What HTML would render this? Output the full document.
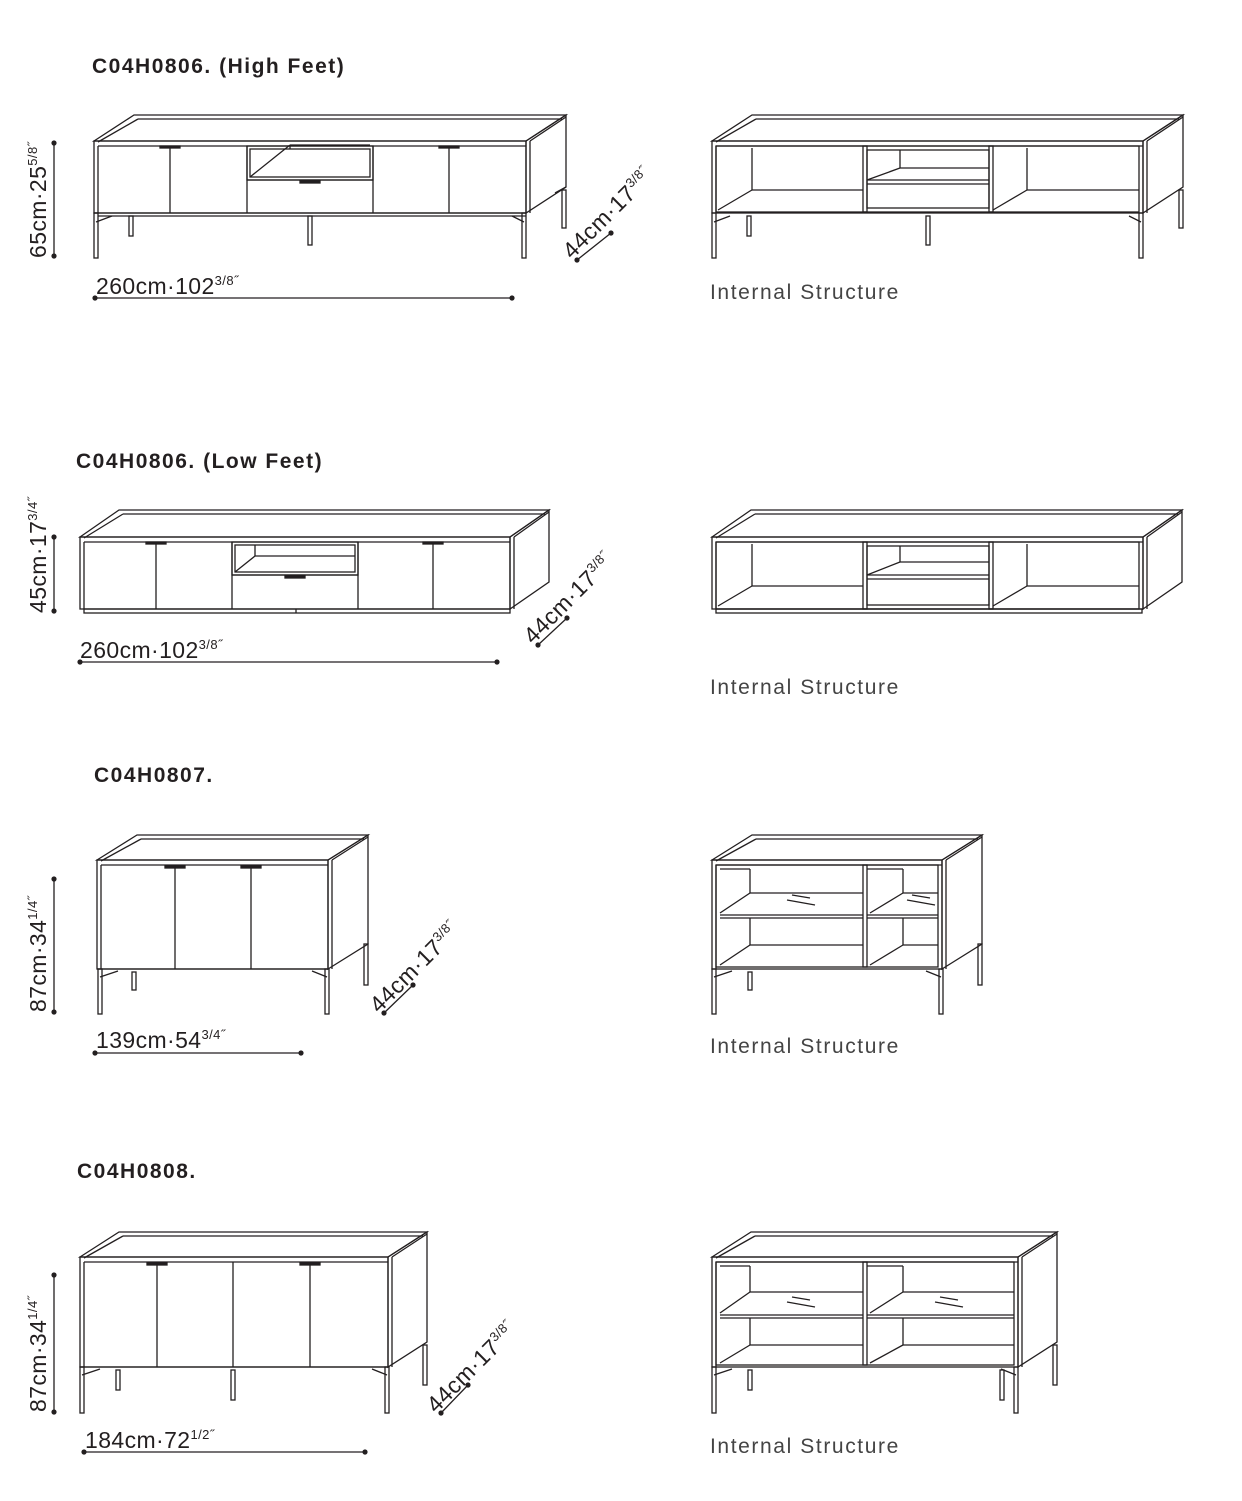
<!DOCTYPE html>
<html><head><meta charset="utf-8"><style>
html,body{margin:0;padding:0;background:#fff}
svg{display:block}
text{font-family:"Liberation Sans",sans-serif;fill:#231f20}
.t{font-weight:bold;font-size:21px;letter-spacing:1.5px}
.d{font-size:23px;letter-spacing:0.4px}
.s{font-size:13px}
.i{font-size:21px;fill:#444;letter-spacing:1.6px}
</style></head><body>
<svg id="s" width="1242" height="1501" viewBox="0 0 1242 1501" xmlns="http://www.w3.org/2000/svg">
<g fill="none" stroke="#231f20" stroke-width="1.3" id="g"></g>
<text class="t" x="92" y="73">C04H0806. (High Feet)</text>
<text class="t" x="76" y="468">C04H0806. (Low Feet)</text>
<text class="t" x="94" y="782">C04H0807.</text>
<text class="t" x="77" y="1178">C04H0808.</text>
<text class="i" x="710" y="299">Internal Structure</text>
<text class="i" x="710" y="694">Internal Structure</text>
<text class="i" x="710" y="1053">Internal Structure</text>
<text class="i" x="710" y="1453">Internal Structure</text>
<text class="d" x="96" y="294">260cm·102<tspan class="s" dy="-9">3/8˝</tspan></text>
<text class="d" x="80" y="658">260cm·102<tspan class="s" dy="-9">3/8˝</tspan></text>
<text class="d" x="96" y="1048">139cm·54<tspan class="s" dy="-9">3/4˝</tspan></text>
<text class="d" x="85" y="1448">184cm·72<tspan class="s" dy="-9">1/2˝</tspan></text>
<text class="d" transform="translate(46,258) rotate(-90)">65cm·25<tspan class="s" dy="-9">5/8˝</tspan></text>
<text class="d" transform="translate(46,613) rotate(-90)">45cm·17<tspan class="s" dy="-9">3/4˝</tspan></text>
<text class="d" transform="translate(46,1012) rotate(-90)">87cm·34<tspan class="s" dy="-9">1/4˝</tspan></text>
<text class="d" transform="translate(46,1412) rotate(-90)">87cm·34<tspan class="s" dy="-9">1/4˝</tspan></text>
<text class="d" transform="translate(572,260) rotate(-45)">44cm·17<tspan class="s" dy="-9">3/8˝</tspan></text>
<text class="d" transform="translate(533,645) rotate(-45)">44cm·17<tspan class="s" dy="-9">3/8˝</tspan></text>
<text class="d" transform="translate(379,1014) rotate(-45)">44cm·17<tspan class="s" dy="-9">3/8˝</tspan></text>
<text class="d" transform="translate(436,1414) rotate(-45)">44cm·17<tspan class="s" dy="-9">3/8˝</tspan></text>
</svg>
<script>
var g=document.getElementById('g'),out='';
function L(a,b,c,d){out+='<line x1="'+a+'" y1="'+b+'" x2="'+c+'" y2="'+d+'"/>';}
function R(x,y,w,h){out+='<rect x="'+x+'" y="'+y+'" width="'+w+'" height="'+h+'"/>';}
function P(p){out+='<polygon points="'+p+'"/>';}
function dot(x,y){out+='<circle cx="'+x+'" cy="'+y+'" r="2.6" fill="#231f20" stroke="none"/>';}
function dim(a,b,c,d){L(a,b,c,d);dot(a,b);dot(c,d);}
function leg(x,y1,y2){R(x-2,y1,4,y2-y1);}
function cab(x0,x1,yt,yb,dx,dy){
  P(x0+','+yt+' '+(x0+dx)+','+(yt-dy)+' '+(x1+dx)+','+(yt-dy)+' '+x1+','+yt);
  L(x0+4,yt+1,x0+dx+4,yt-dy+4);L(x0+dx+4,yt-dy+4,x1+dx-4,yt-dy+4);
  P(x1+','+yt+' '+(x1+dx)+','+(yt-dy)+' '+(x1+dx)+','+(yb-dy)+' '+x1+','+yb);
  L(x1+4,yt,x1+4,yb);L(x1+4,yt,x1+dx,yt-dy+2);
  R(x0,yt,x1-x0,yb-yt);
  L(x0+4,yt+5,x0+4,yb);L(x0+4,yt+5,x1,yt+5);
}
function handle(x,y){out+='<rect x="'+(x-10)+'" y="'+y+'" width="20" height="2" fill="#231f20"/>';}
function openbox(x0,x1,y0,y1,d){R(x0,y0,x1-x0,y1-y0);R(x0+3,y0+3,x1-x0-6,y1-y0-6);
  L(x0+3+d,y0+3,x0+3+d,y1-3-d*0.8);L(x0+3+d,y1-3-d*0.8,x1-3,y1-3-d*0.8);L(x0+3,y1-3,x0+3+d,y1-3-d*0.8);}
function comp(x0,x1,y0,y1,d,h){
  L(x0+d,y0,x0+d,y1-h);L(x0+d,y1-h,x1,y1-h);L(x0,y1,x0+d,y1-h);}
cab(94,526,141,213,40,26);
[170,247,373,449].forEach(function(x){L(x,146,x,213);});
handle(170,146);handle(449,146);
openbox(247,373,146,180,40);L(247,180,373,180);handle(310,181);
L(94,213,526,213);L(98,216,526,216);
leg(96,213,258);leg(524,213,258);leg(131,216,236);leg(310,216,245);leg(564,190,228);
L(96,222,112,216);L(524,222,512,216);L(566,187,555,193);
dim(54,143,54,256);dim(95,298,512,298);dim(577,260,611,233);
cab(712,1143,141,213,40,26);
R(716,146,1139-716,66);
[865,991].forEach(function(x){R(x-2,146,4,66);});
comp(718,863,148,210,34,20);comp(993,1139,148,210,34,20);
R(867,150,122,58);L(867,180,989,180);L(867,184,989,184);L(900,150,900,168);L(900,168,989,168);L(867,180,900,168);
leg(714,213,258);leg(1141,213,258);leg(749,216,236);leg(928,216,245);leg(1181,190,228);
L(714,222,730,216);L(1141,222,1129,216);
cab(80,510,537,609,39,27);
[156,232,358,433].forEach(function(x){L(x,542,x,609);});
handle(156,542);handle(433,542);
openbox(232,358,542,575,20);L(232,575,358,575);handle(295,576);
R(84,609,426,4);L(296,609,296,613);
dim(54,537,54,611);dim(80,662,497,662);dim(538,645,567,618);
cab(712,1143,537,609,39,27);
R(716,542,1139-716,67);
[865,991].forEach(function(x){R(x-2,542,4,67);});
comp(718,863,544,606,34,20);comp(993,1139,544,606,34,20);
R(867,546,122,59);L(867,575,989,575);L(867,579,989,579);L(900,546,900,562);L(900,562,989,562);L(867,575,900,562);
R(716,609,426,4);
cab(97,328,860,969,40,25);
[175,251].forEach(function(x){L(x,865,x,969);});
handle(175,866);handle(251,866);
L(97,969,328,969);
leg(100,969,1014);leg(327,969,1014);leg(134,972,990);leg(366,944,985);
L(100,977,118,971);L(327,977,312,971);
dim(54,879,54,1012);dim(95,1053,301,1053);dim(384,1013,413,985);
cab(712,942,860,969,40,25);
R(716,865,222,102);R(863,865,4,102);
L(720,869,750,869);L(750,869,750,893);L(720,913,750,893);L(750,893,863,893);
L(720,915,863,915);L(720,918,863,918);L(750,918,750,945);L(750,945,863,945);L(720,965,750,945);
L(867,869,903,869);L(903,869,903,893);L(870,913,903,893);L(903,893,938,893);
L(867,915,938,915);L(867,918,938,918);L(903,918,903,945);L(903,945,938,945);L(870,965,903,945);
L(787,900,815,905);L(792,895,810,898);L(907,900,935,905);L(912,895,930,898);
leg(714,969,1014);leg(941,969,1014);leg(750,972,990);leg(980,944,985);
L(714,977,732,971);L(941,977,926,971);
cab(80,388,1257,1367,39,25);
[157,233,310].forEach(function(x){L(x,1262,x,1367);});
handle(157,1263);handle(310,1263);
L(80,1367,388,1367);
leg(82,1367,1413);leg(387,1367,1413);leg(118,1370,1390);leg(233,1370,1400);leg(425,1345,1385);
L(82,1375,100,1369);L(387,1375,372,1369);
dim(54,1275,54,1412);dim(84,1452,365,1452);dim(441,1413,468,1385);
cab(712,1018,1257,1367,39,25);
R(716,1262,298,103);R(863,1262,4,103);
L(720,1266,750,1266);L(750,1266,750,1292);L(720,1313,750,1292);L(750,1292,863,1292);
L(720,1315,863,1315);L(720,1318,863,1318);L(750,1318,750,1345);L(750,1345,863,1345);L(720,1363,750,1345);
L(867,1266,903,1266);L(903,1266,903,1292);L(870,1313,903,1292);L(903,1292,1014,1292);
L(867,1315,1014,1315);L(867,1318,1014,1318);L(903,1318,903,1345);L(903,1345,1014,1345);L(870,1363,903,1345);
L(787,1302,815,1307);L(792,1297,810,1300);L(935,1302,963,1307);L(940,1297,958,1300);
leg(714,1367,1413);leg(1016,1367,1413);leg(750,1370,1390);leg(1002,1370,1400);leg(1055,1345,1385);
L(714,1375,732,1369);L(1016,1375,1001,1369);
g.innerHTML=out;
</script>
</body></html>
